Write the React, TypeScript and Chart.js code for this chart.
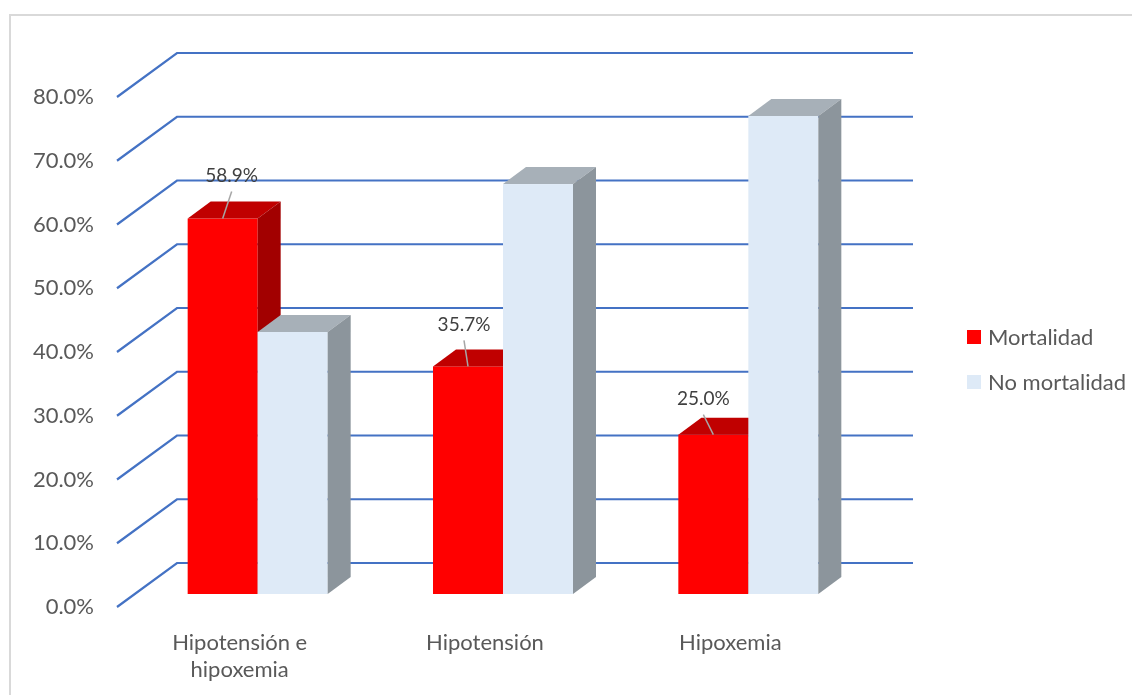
import React, { useEffect, useRef } from "react";
import { Chart, registerables } from "chart.js";
Chart.register(...registerables);

const categories: (string | string[])[] = [["Hipotensión e", "hipoxemia"], "Hipotensión", "Hipoxemia"];
const seriesNames = ["Mortalidad", "No mortalidad"];
const mortalidad = [58.9, 35.7, 25.0];
const noMortalidad = [41.1, 64.3, 75.0];
const yMax = 80;
const yStep = 10;

// styling
const FONT = "Lato, 'Open Sans', sans-serif";
const frontColors = ["#FF0000", "#DEEAF7"];
const topColors = ["#C00000", "#A7B0B8"];
const sideColors = ["#A20000", "#8C959C"];
const GRID = "#4472C4";
const FULL_DX = 60, FULL_DY = -44;
const BAR_OFF_X = 18, BAR_OFF_Y = -13;
const BAR_DX = 23, BAR_DY = -17;
const labelOffsets = [[9, -43], [-4, -42], [-10, -36]];

const threeD = {
  id: "threeD",
  beforeDatasetsDraw(chart: any) {
    const ctx = chart.ctx;
    const { left, right } = chart.chartArea;
    const ys = chart.scales.y;
    ctx.save();
    // outer border
    ctx.strokeStyle = "#D9D9D9";
    ctx.lineWidth = 2;
    ctx.beginPath();
    ctx.moveTo(2, chart.height);
    ctx.lineTo(2, 7);
    ctx.lineTo(chart.width, 7);
    ctx.stroke();
    // gridlines
    ctx.strokeStyle = GRID;
    ctx.lineWidth = 2.2;
    ys.ticks.forEach((t: any) => {
      const yf = ys.getPixelForValue(t.value);
      ctx.beginPath();
      ctx.moveTo(left, yf);
      ctx.lineTo(left + FULL_DX, yf + FULL_DY);
      ctx.lineTo(right + FULL_DX, yf + FULL_DY);
      ctx.stroke();
    });
    ctx.restore();
  },
  afterDatasetsDraw(chart: any) {
    const ctx = chart.ctx;
    ctx.save();
    const n = chart.data.labels.length;
    for (let i = 0; i < n; i++) {
      chart.data.datasets.forEach((_: any, d: number) => {
        const el = chart.getDatasetMeta(d).data[i];
        const { x, y, base, width } = el.getProps(["x", "y", "base", "width"], true);
        const x0 = x - width / 2 + BAR_OFF_X;
        const x1 = x0 + width;
        const yt = y + BAR_OFF_Y;
        const yb = base + BAR_OFF_Y;
        // front
        ctx.fillStyle = frontColors[d];
        ctx.fillRect(x0, yt, width, yb - yt);
        // top
        ctx.fillStyle = topColors[d];
        ctx.beginPath();
        ctx.moveTo(x0, yt);
        ctx.lineTo(x0 + BAR_DX, yt + BAR_DY);
        ctx.lineTo(x1 + BAR_DX, yt + BAR_DY);
        ctx.lineTo(x1, yt);
        ctx.closePath();
        ctx.fill();
        // side
        ctx.fillStyle = sideColors[d];
        ctx.beginPath();
        ctx.moveTo(x1, yt);
        ctx.lineTo(x1 + BAR_DX, yt + BAR_DY);
        ctx.lineTo(x1 + BAR_DX, yb + BAR_DY);
        ctx.lineTo(x1, yb);
        ctx.closePath();
        ctx.fill();
      });
    }
    // data labels for Mortalidad
    const meta = chart.getDatasetMeta(0);
    ctx.font = `19px ${FONT}`;
    ctx.textAlign = "center";
    ctx.textBaseline = "middle";
    meta.data.forEach((el: any, i: number) => {
      const { x, y } = el.getProps(["x", "y"], true);
      const ax = x + BAR_OFF_X;
      const ay = y + BAR_OFF_Y;
      const lx = ax + labelOffsets[i][0];
      const ly = ay + labelOffsets[i][1];
      ctx.strokeStyle = "#A6A6A6";
      ctx.lineWidth = 1.5;
      ctx.beginPath();
      ctx.moveTo(lx, ly + 16);
      ctx.lineTo(ax, ay);
      ctx.stroke();
      ctx.fillStyle = "#404040";
      ctx.fillText(mortalidad[i].toFixed(1) + "%", lx, ly);
    });
    // legend
    ctx.font = `22px ${FONT}`;
    ctx.textAlign = "left";
    seriesNames.forEach((name, d) => {
      const sy = 322 + d * 45;
      ctx.fillStyle = frontColors[d];
      ctx.fillRect(959, sy, 14, 14);
      ctx.fillStyle = "#595959";
      ctx.fillText(name, 980, sy + 8);
    });
    ctx.restore();
  },
};

export default function App() {
  const ref = useRef<HTMLCanvasElement>(null);
  useEffect(() => {
    const chart = new Chart(ref.current!, {
      type: "bar",
      data: {
        labels: categories,
        datasets: [
          { label: seriesNames[0], data: mortalidad, backgroundColor: "rgba(0,0,0,0)", clip: false } as any,
          { label: seriesNames[1], data: noMortalidad, backgroundColor: "rgba(0,0,0,0)", clip: false } as any,
        ],
      },
      options: {
        animation: false,
        responsive: false,
        events: [],
        layout: { padding: { left: 0, top: 89, right: 287, bottom: 0 } },
        plugins: { legend: { display: false }, tooltip: { enabled: false } },
        datasets: { bar: { categoryPercentage: 140 / 245.33, barPercentage: 1 } },
        scales: {
          x: {
            grid: { display: false },
            border: { display: false },
            ticks: { color: "#595959", font: { family: FONT, size: 22, lineHeight: 1.25 }, padding: 14, maxRotation: 0 },
            afterFit: (s: any) => { s.height = 88; },
          },
          y: {
            min: 0,
            max: yMax,
            grid: { display: false },
            border: { display: false },
            ticks: {
              stepSize: yStep,
              color: "#595959",
              font: { family: FONT, size: 22 },
              padding: 15,
              callback: (v: any) => Number(v).toFixed(1) + "%",
            },
            afterFit: (s: any) => { s.width = 109; },
          },
        },
      },
      plugins: [threeD],
    });
    return () => chart.destroy();
  }, []);
  return (
    <div style={{ width: 1132, height: 687 }}>
      <canvas ref={ref} width={1132} height={687} style={{ display: "block" }} />
    </div>
  );
}
